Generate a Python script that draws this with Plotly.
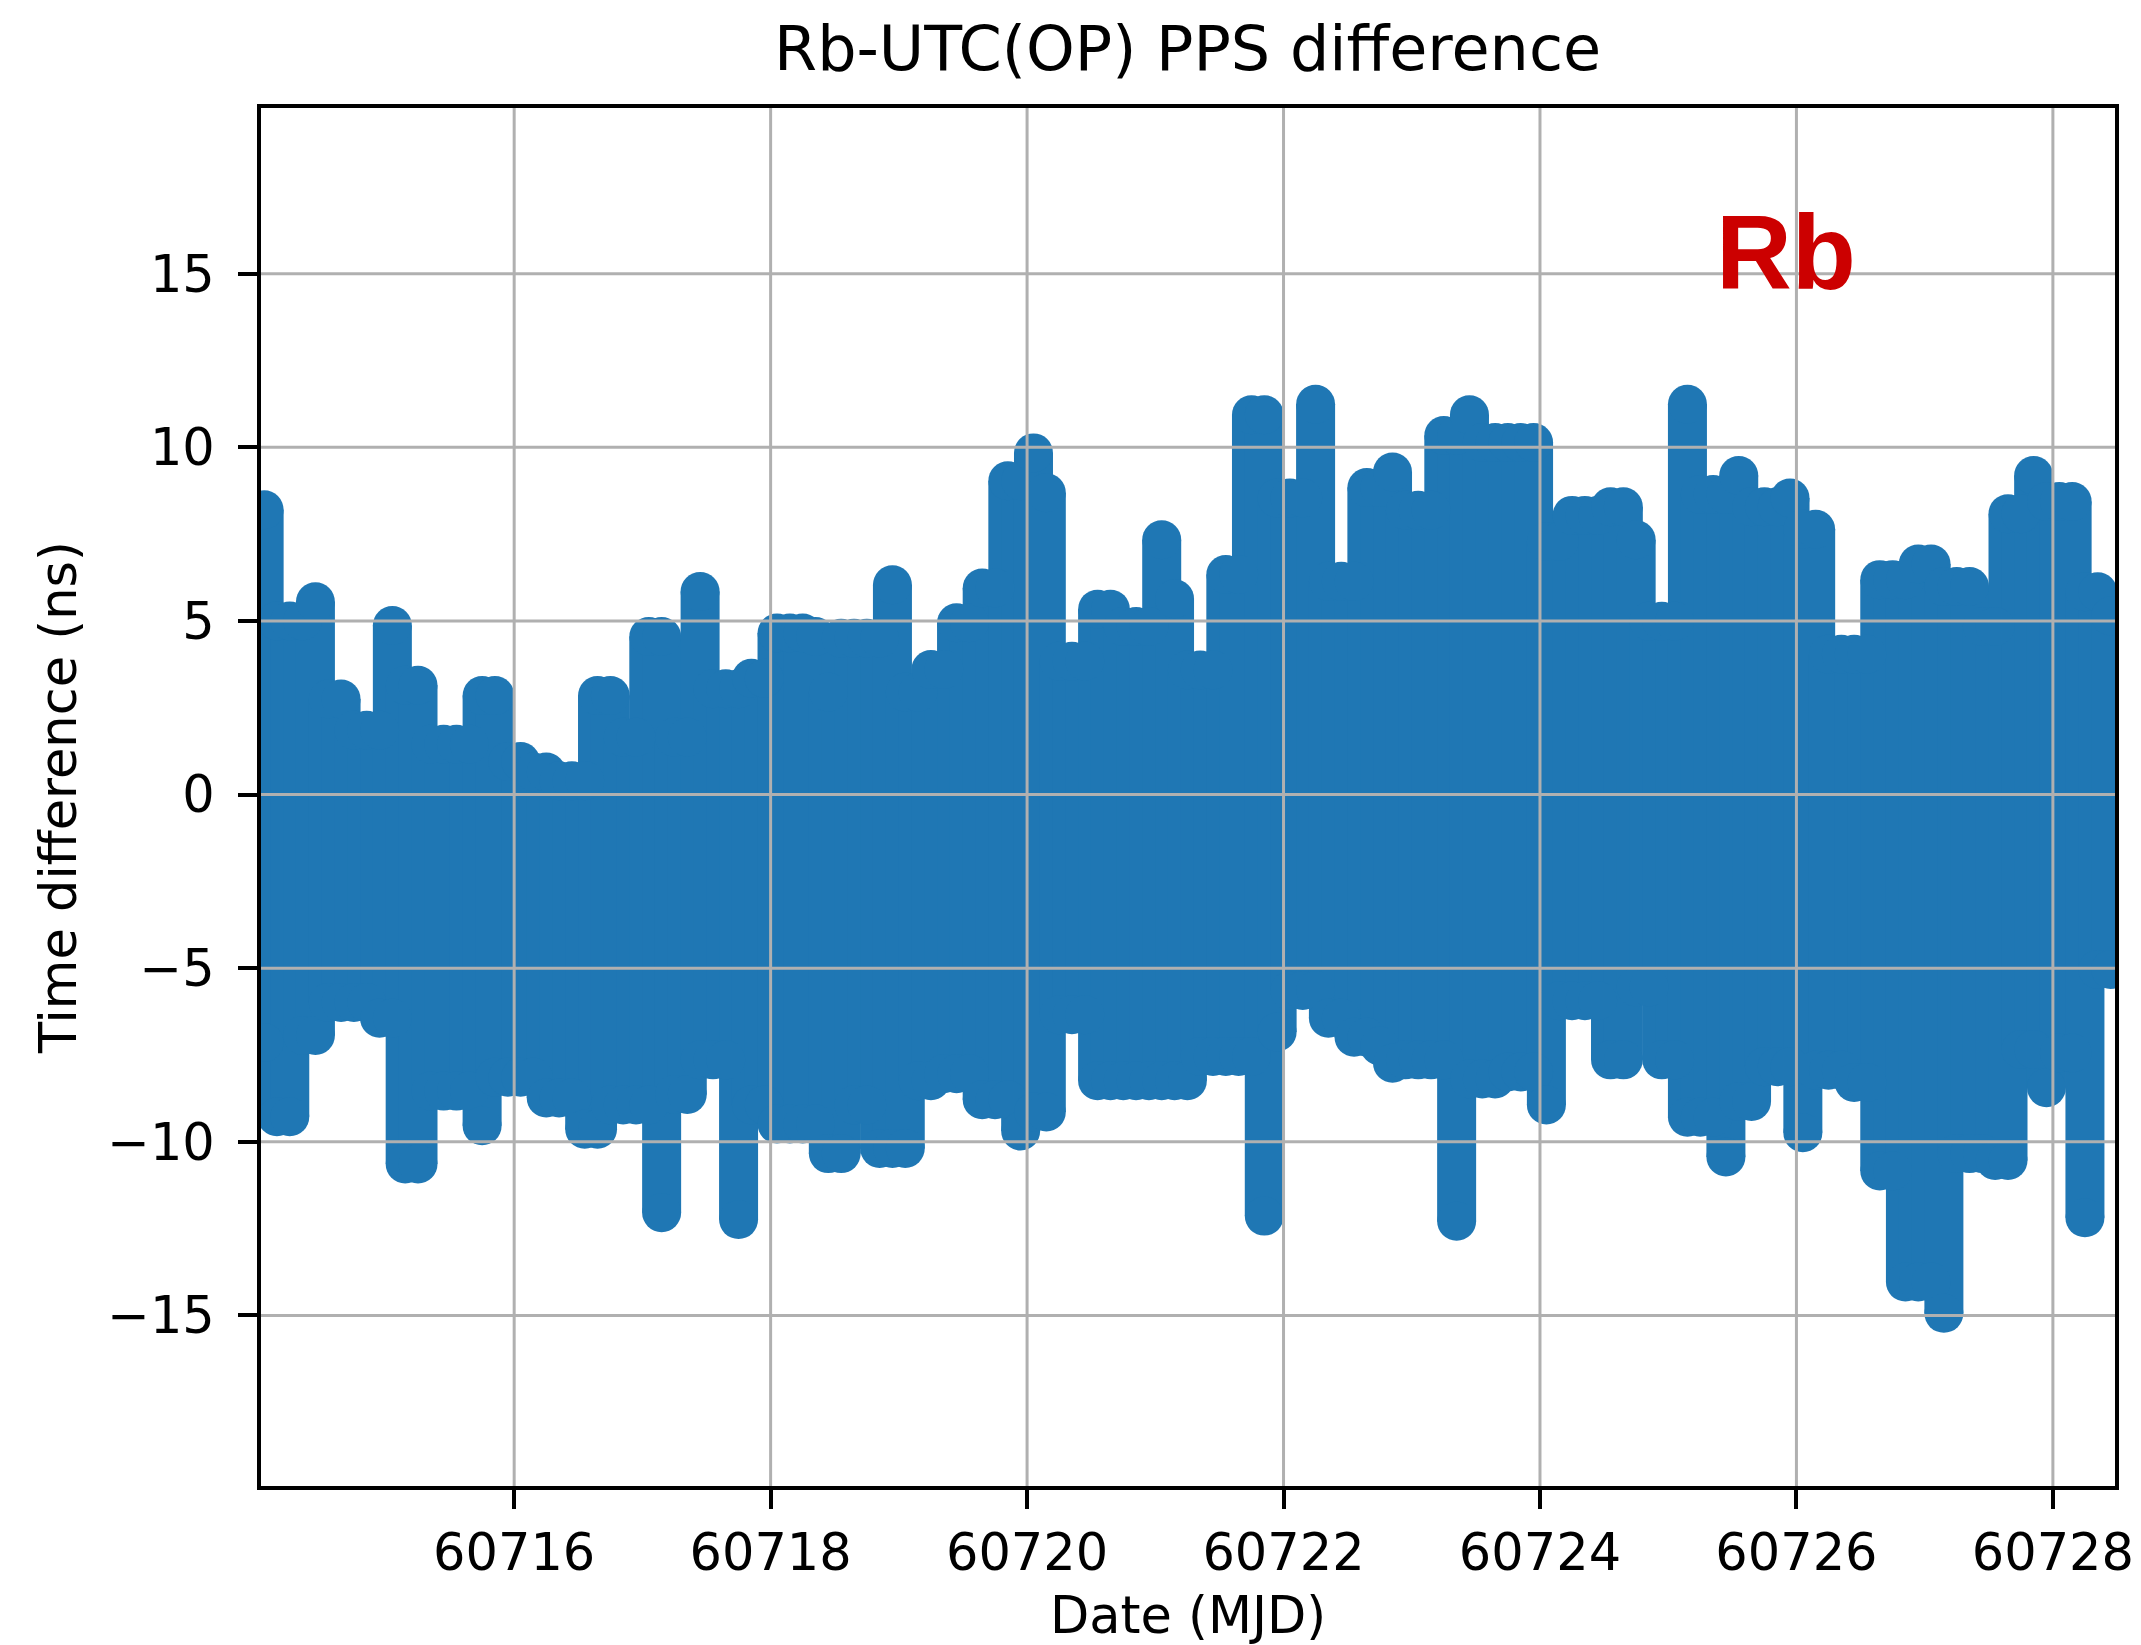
import plotly.graph_objects as go

# Rb - UTC(OP) 1PPS comparison, summarised per 0.1-day bin:
# bin centre (MJD), highest and lowest time difference (ns) in the bin.
mjd = [
    60714.05, 60714.15, 60714.25, 60714.35, 60714.45, 60714.55, 60714.65, 60714.75, 60714.85, 60714.95,
    60715.05, 60715.15, 60715.25, 60715.35, 60715.45, 60715.55, 60715.65, 60715.75, 60715.85, 60715.95,
    60716.05, 60716.15, 60716.25, 60716.35, 60716.45, 60716.55, 60716.65, 60716.75, 60716.85, 60716.95,
    60717.05, 60717.15, 60717.25, 60717.35, 60717.45, 60717.55, 60717.65, 60717.75, 60717.85, 60717.95,
    60718.05, 60718.15, 60718.25, 60718.35, 60718.45, 60718.55, 60718.65, 60718.75, 60718.85, 60718.95,
    60719.05, 60719.15, 60719.25, 60719.35, 60719.45, 60719.55, 60719.65, 60719.75, 60719.85, 60719.95,
    60720.05, 60720.15, 60720.25, 60720.35, 60720.45, 60720.55, 60720.65, 60720.75, 60720.85, 60720.95,
    60721.05, 60721.15, 60721.25, 60721.35, 60721.45, 60721.55, 60721.65, 60721.75, 60721.85, 60721.95,
    60722.05, 60722.15, 60722.25, 60722.35, 60722.45, 60722.55, 60722.65, 60722.75, 60722.85, 60722.95,
    60723.05, 60723.15, 60723.25, 60723.35, 60723.45, 60723.55, 60723.65, 60723.75, 60723.85, 60723.95,
    60724.05, 60724.15, 60724.25, 60724.35, 60724.45, 60724.55, 60724.65, 60724.75, 60724.85, 60724.95,
    60725.05, 60725.15, 60725.25, 60725.35, 60725.45, 60725.55, 60725.65, 60725.75, 60725.85, 60725.95,
    60726.05, 60726.15, 60726.25, 60726.35, 60726.45, 60726.55, 60726.65, 60726.75, 60726.85, 60726.95,
    60727.05, 60727.15, 60727.25, 60727.35, 60727.45, 60727.55, 60727.65, 60727.75, 60727.85, 60727.95,
    60728.05, 60728.15, 60728.25, 60728.35, 60728.45,
]

upper_ns = [
    8.2, 5.0, 5.0, 5.0, 5.55, 2.75, 2.75, 1.85, 1.85, 1.85,
    4.87, 3.15, 3.15, 1.45, 1.45, 1.45, 1.45, 2.85, 2.85, 0.95,
    0.95, 0.65, 0.65, 0.4, 0.4, 0.4, 2.85, 2.85, 1.65, 1.65,
    4.55, 4.55, 1.65, 1.65, 5.85, 3.05, 3.05, 3.05, 3.35, 3.35,
    4.65, 4.65, 4.65, 4.55, 2.95, 4.5, 4.5, 4.5, 4.5, 6.04,
    2.95, 2.95, 3.6, 3.6, 4.95, 4.95, 5.95, 5.95, 9.04, 9.04,
    9.84, 8.69, 3.84, 3.84, 3.84, 5.34, 5.34, 4.84, 4.84, 4.84,
    7.34, 5.64, 3.59, 3.59, 3.59, 6.34, 6.34, 10.94, 10.94, 8.54,
    8.54, 8.54, 11.24, 6.14, 6.14, 6.14, 8.84, 8.84, 9.29, 8.19,
    8.19, 8.19, 10.34, 10.34, 10.94, 10.14, 10.14, 10.14, 10.14, 10.14,
    7.29, 7.29, 8.04, 8.04, 8.04, 8.29, 8.29, 7.34, 4.99, 4.99,
    4.99, 11.24, 8.64, 8.64, 8.64, 9.19, 8.29, 8.29, 8.29, 8.54,
    7.64, 7.64, 4.04, 4.04, 4.04, 4.04, 6.19, 6.19, 6.19, 6.64,
    6.64, 5.99, 5.99, 5.99, 4.84, 4.84, 8.09, 8.09, 9.19, 8.44,
    8.44, 8.44, 5.84, 5.84, 5.14,
]

lower_ns = [
    -7.14, -9.28, -9.28, -6.94, -6.94, -5.99, -5.99, -5.99, -5.99, -6.44,
    -6.44, -10.64, -10.64, -8.54, -8.54, -8.54, -8.54, -9.54, -8.14, -8.14,
    -8.14, -8.14, -8.74, -8.74, -8.74, -9.64, -9.64, -8.94, -8.94, -8.94,
    -8.94, -12.04, -8.64, -8.64, -7.64, -7.64, -7.64, -12.24, -8.94, -8.94,
    -9.49, -9.49, -9.49, -9.49, -10.34, -10.34, -8.94, -8.94, -10.19, -10.19,
    -10.19, -8.24, -8.24, -8.04, -8.04, -8.04, -8.79, -8.79, -8.79, -9.69,
    -9.14, -9.14, -6.34, -6.34, -6.34, -8.24, -8.24, -8.24, -8.24, -8.24,
    -8.24, -8.24, -8.24, -7.54, -7.54, -7.54, -7.54, -7.54, -12.14, -6.84,
    -5.64, -5.64, -5.64, -6.44, -6.44, -6.99, -6.99, -7.24, -7.74, -7.64,
    -7.64, -7.64, -7.64, -12.29, -8.19, -8.19, -8.19, -7.99, -7.99, -7.99,
    -8.94, -5.94, -5.94, -5.94, -5.94, -7.64, -7.64, -5.54, -5.54, -7.64,
    -7.64, -9.29, -9.29, -9.29, -10.44, -8.84, -8.84, -7.84, -7.84, -7.84,
    -9.74, -7.94, -7.94, -7.94, -8.29, -8.29, -10.84, -10.84, -14.04, -14.04,
    -14.04, -14.94, -10.34, -10.34, -10.34, -10.54, -10.54, -7.34, -7.34, -8.44,
    -7.44, -7.44, -12.19, -5.04, -5.04,
]

x_ticks = [60716, 60718, 60720, 60722, 60724, 60726, 60728]
y_ticks = [-15, -10, -5, 0, 5, 10, 15]

BLUE = "#1f77b4"
DOT = 39  # marker diameter in px

# every bin is drawn as a solid run of samples between its extremes
seg_x, seg_y = [], []
for t, lo, hi in zip(mjd, lower_ns, upper_ns):
    seg_x += [t, t, None]
    seg_y += [lo, hi, None]

fig = go.Figure()
fig.add_trace(go.Scatter(
    x=seg_x, y=seg_y, mode="lines",
    line=dict(color=BLUE, width=DOT),
    hoverinfo="skip", showlegend=False,
))
fig.add_trace(go.Scatter(
    x=mjd + mjd, y=upper_ns + lower_ns, mode="markers",
    marker=dict(color=BLUE, size=DOT, line=dict(width=0)),
    showlegend=False,
))

# grid drawn over the data, then the frame
GRID = "#b0b0b0"
shapes = []
for v in x_ticks:
    shapes.append(dict(type="line", xref="x", yref="paper", x0=v, x1=v, y0=0, y1=1,
                       line=dict(color=GRID, width=3), layer="above"))
for v in y_ticks:
    shapes.append(dict(type="line", xref="paper", yref="y", x0=0, x1=1, y0=v, y1=v,
                       line=dict(color=GRID, width=3), layer="above"))
shapes.append(dict(type="rect", xref="paper", yref="paper", x0=0, x1=1, y0=0, y1=1,
                   line=dict(color="black", width=4), fillcolor="rgba(0,0,0,0)", layer="above"))

FONT = "DejaVu Sans"
fig.update_layout(
    width=2141, height=1645,
    margin=dict(l=259, r=24, t=106, b=157),
    paper_bgcolor="white", plot_bgcolor="white",
    font=dict(family=FONT, size=51, color="black"),
    title=dict(text="Rb-UTC(OP) PPS difference", x=0.5547, xanchor="center",
               y=0.9708, yanchor="middle", yref="container",
               font=dict(family=FONT, size=62, color="black")),
    shapes=shapes,
    annotations=[dict(text="<b>Rb</b>", x=60725.92, y=15.62, xref="x", yref="y",
                      showarrow=False, xanchor="center", yanchor="middle",
                      font=dict(family="Liberation Sans", size=105, color="#cc0000"))],
    showlegend=False,
)
fig.update_xaxes(
    range=[60714.01, 60728.50], tickvals=x_ticks, ticktext=[str(v) for v in x_ticks],
    showgrid=False, zeroline=False, showline=False, automargin=False,
    ticks="outside", ticklen=20, tickwidth=3.5, tickcolor="black",
    tickfont=dict(family=FONT, size=51), ticklabelstandoff=0,
    title=dict(text="Date (MJD)", standoff=34, font=dict(family=FONT, size=51)),
)
fig.update_yaxes(
    range=[-19.97, 19.83], tickvals=y_ticks,
    showgrid=False, zeroline=False, showline=False, automargin=False,
    ticks="outside", ticklen=20, tickwidth=3.5, tickcolor="black",
    tickfont=dict(family=FONT, size=51), ticklabelstandoff=13,
    title=dict(text="Time difference (ns)", standoff=14, font=dict(family=FONT, size=51)),
)

fig.write_html("out.html")
